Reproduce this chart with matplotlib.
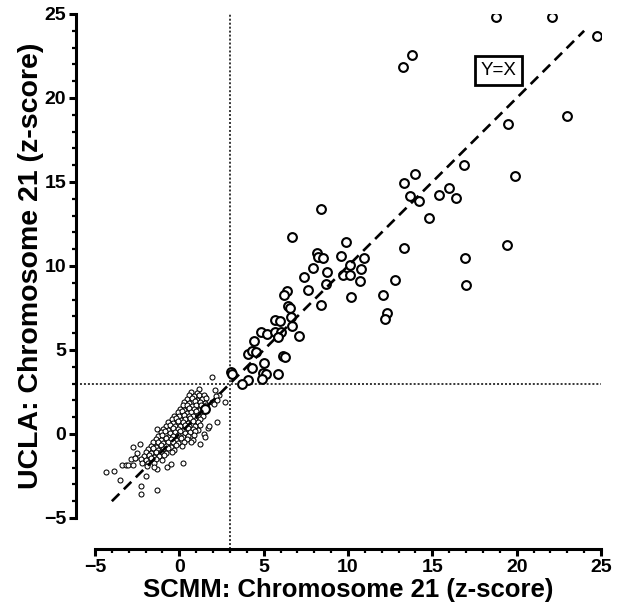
import matplotlib
matplotlib.use("Agg")
import matplotlib.pyplot as plt
from matplotlib.ticker import MultipleLocator

# ---- data: samples with z > 3 on either axis (large circles) ----
big_x = [18.8, 22.1, 24.75, 13.8, 13.25, 23.0, 19.5, 16.9, 19.9, 13.95, 13.3, 13.7, 14.2,
         15.4, 16.0, 16.4, 14.8, 8.4, 6.7, 9.9, 8.15, 8.2, 8.5, 9.6, 10.95, 13.3, 19.4,
         16.95, 17.0, 7.95, 10.1, 10.8, 8.75, 7.4, 9.7, 10.1, 10.7, 8.7, 12.8, 6.4, 7.65,
         6.2, 10.15, 12.1, 12.3, 12.2, 8.4, 6.45, 6.55, 6.65, 5.65, 5.95, 6.7, 7.1, 4.85,
         5.2, 5.7, 6.0, 5.85, 4.4, 4.05, 4.3, 4.55, 6.15, 6.25, 5.0, 4.3, 4.95, 5.15, 5.85,
         4.9, 4.1, 3.7, 3.05, 3.1, 1.5]
big_y = [24.85, 24.85, 23.7, 22.55, 21.85, 18.95, 18.45, 16.0, 15.35, 15.5, 14.95, 14.15, 13.85,
         14.25, 14.65, 14.05, 12.85, 13.4, 11.7, 11.4, 10.8, 10.55, 10.5, 10.6, 10.5, 11.05, 11.25,
         10.5, 8.85, 9.9, 10.05, 9.8, 9.65, 9.35, 9.45, 9.45, 9.1, 8.95, 9.15, 8.5, 8.6,
         8.3, 8.15, 8.25, 7.2, 6.85, 7.7, 7.6, 7.5, 6.95, 6.8, 6.75, 6.4, 5.85, 6.05,
         5.95, 6.1, 6.1, 5.8, 5.55, 4.75, 4.95, 4.9, 4.65, 4.6, 4.2, 3.9, 3.65, 3.55, 3.6,
         3.25, 3.2, 2.95, 3.7, 3.55, 1.5]

# ---- data: normal samples (small circles) ----
small_x = [
    # scattered points around the core
    -4.37, -3.87, -3.52, -3.42, -3.16, -3.03, -2.73, -2.63, -2.73, -2.33, -2.87, -2.63,
    -2.5, -2.3, -2.3, -1.33, -1.95, -1.33, -1.31, -0.72, -0.48, 0.19, 1.22, 1.48, 1.54,
    1.68, 1.78, 2.25, 1.96, 1.17, 2.13, 2.33, 2.17, 2.7, 0.67, 1.52, 1.91, 2.21, 2.05,
    # dense core
    0.7, 1.05,
    0.55, 0.85, 1.15, 1.45,
    0.45, 0.75, 1.05, 1.35, 1.6,
    0.3, 0.6, 0.9, 1.2, 1.5,
    0.2, 0.45, 0.75, 1.0, 1.3, 1.6,
    0.05, 0.3, 0.6, 0.85, 1.15, 1.45,
    -0.1, 0.15, 0.45, 0.7, 1.0, 1.3,
    -0.3, 0.0, 0.25, 0.55, 0.8, 1.1, 1.4,
    -0.45, -0.2, 0.1, 0.35, 0.65, 0.95, 1.25,
    -0.65, -0.35, -0.1, 0.2, 0.5, 0.8, 1.1,
    -0.8, -0.55, -0.25, 0.05, 0.35, 0.6, 0.9, 1.2,
    -0.95, -0.7, -0.4, -0.1, 0.2, 0.5, 0.8, 1.1,
    -1.1, -0.85, -0.55, -0.25, 0.05, 0.35, 0.65, 0.95,
    -1.25, -1.0, -0.7, -0.4, -0.1, 0.2, 0.5, 0.85,
    -1.4, -1.1, -0.8, -0.5, -0.2, 0.1, 0.45, 0.8,
    -1.55, -1.25, -0.95, -0.65, -0.35, -0.05, 0.3, 0.7,
    -1.7, -1.4, -1.1, -0.8, -0.5, -0.2, 0.15,
    -1.85, -1.55, -1.25, -0.95, -0.65, -0.3,
    -2.0, -1.7, -1.4, -1.1, -0.8, -0.45,
    -2.1, -1.8, -1.5, -1.2, -0.9,
    -2.3, -2.0, -1.7, -1.4, -1.05,
    -2.2, -1.85, -1.5,
    -1.9, -1.5,
]
small_y = [
    -2.28, -2.2, -2.74, -1.86, -1.86, -1.86, -1.86, -1.45, -0.76, -0.6, -1.51, -1.45,
    -1.15, -3.1, -3.55, -3.33, -2.5, -2.06, 0.32, -1.95, -1.8, -1.74, -0.6, 0.0, -0.2,
    0.34, 0.48, 0.7, 3.4, 2.66, 2.62, 2.32, 2.28, 1.9, 2.22, 2.18, 1.92, 2.02, 1.79,
    2.5, 2.45,
    2.3, 2.25, 2.35, 2.3,
    2.1, 2.15, 2.05, 2.1, 2.15,
    1.9, 1.85, 1.95, 1.9, 1.85,
    1.7, 1.75, 1.65, 1.7, 1.75, 1.7,
    1.5, 1.45, 1.55, 1.5, 1.45, 1.55,
    1.3, 1.35, 1.25, 1.3, 1.35, 1.25,
    1.1, 1.05, 1.15, 1.1, 1.05, 1.15, 1.1,
    0.9, 0.95, 0.85, 0.9, 0.95, 0.85, 0.9,
    0.7, 0.65, 0.75, 0.7, 0.65, 0.75, 0.7,
    0.5, 0.55, 0.45, 0.5, 0.55, 0.45, 0.5, 0.55,
    0.3, 0.25, 0.35, 0.3, 0.25, 0.35, 0.3, 0.25,
    0.1, 0.15, 0.05, 0.1, 0.15, 0.05, 0.1, 0.15,
    -0.1, -0.05, -0.15, -0.1, -0.05, -0.15, -0.1, -0.05,
    -0.3, -0.35, -0.25, -0.3, -0.35, -0.25, -0.3, -0.35,
    -0.5, -0.45, -0.55, -0.5, -0.45, -0.55, -0.5, -0.45,
    -0.7, -0.75, -0.65, -0.7, -0.75, -0.65, -0.7,
    -0.9, -0.85, -0.95, -0.9, -0.85, -0.95,
    -1.1, -1.15, -1.05, -1.1, -1.15, -1.05,
    -1.3, -1.25, -1.35, -1.3, -1.25,
    -1.5, -1.55, -1.45, -1.5, -1.55,
    -1.7, -1.75, -1.7,
    -1.9, -1.95,
]

line_x = [-4, 24]          # identity line extent
cutoff = 3                 # z-score cut-off
x_ticks = [-5, 0, 5, 10, 15, 20, 25]
y_ticks = [-5, 0, 5, 10, 15, 20, 25]

plt.rcParams['font.family'] = ['Liberation Sans', 'DejaVu Sans']

fig = plt.figure(figsize=(6.25, 6.08), dpi=100)
ax = fig.add_axes([95 / 625, 90 / 608, 506 / 625, 504 / 608])
ax.set_xlim(-5, 25)
ax.set_ylim(-5, 25)

ax.scatter(small_x, small_y, s=13, facecolors='white', edgecolors='black',
           linewidths=0.75, zorder=3)
ax.scatter(big_x, big_y, s=40, facecolors='white', edgecolors='black',
           linewidths=1.5, zorder=4)
ax.plot(line_x, line_x, color='black', lw=1.9, linestyle=(0, (4, 2.4)), zorder=5)

# offsets of detached spines (pixels)
left_off_px, bottom_off_px = 19, 31
ppu_x = 506 / 30
ppu_y = 504 / 30
x_left = -5 - left_off_px / ppu_x
y_bot = -5 - bottom_off_px / ppu_y
ax.plot([cutoff, cutoff], [y_bot, 25], color='black', lw=1.1,
        linestyle=(0, (1.3, 1.3)), clip_on=False, zorder=2)
ax.plot([x_left, 25], [cutoff, cutoff], color='black', lw=1.1,
        linestyle=(0, (1.3, 1.3)), clip_on=False, zorder=2)

ax.text(18.92, 21.64, 'Y=X', fontsize=13.5, ha='center', va='center', zorder=6,
        bbox=dict(boxstyle='square,pad=0.32', facecolor='white', edgecolor='black', lw=2.0))

for s in ['top', 'right']:
    ax.spines[s].set_visible(False)
ax.spines['left'].set_position(('outward', left_off_px * 0.72))
ax.spines['bottom'].set_position(('outward', bottom_off_px * 0.72))
for s in ['left', 'bottom']:
    ax.spines[s].set_linewidth(2.2)

ax.set_xticks(x_ticks)
ax.set_yticks(y_ticks)
ax.xaxis.set_minor_locator(MultipleLocator(1))
ax.yaxis.set_minor_locator(MultipleLocator(1))
ax.tick_params(which='major', direction='out', length=5, width=2.2, labelsize=14, pad=2)
ax.tick_params(which='minor', direction='out', length=3, width=1.6)
for lab in ax.get_xticklabels() + ax.get_yticklabels():
    lab.set_fontweight('bold')

ax.set_xlabel('SCMM: Chromosome 21 (z-score)', fontsize=18.5, fontweight='bold', labelpad=2)
ax.set_ylabel('UCLA: Chromosome 21 (z-score)', fontsize=20.5, fontweight='bold', labelpad=0)

fig.savefig('out.png', dpi=100)
